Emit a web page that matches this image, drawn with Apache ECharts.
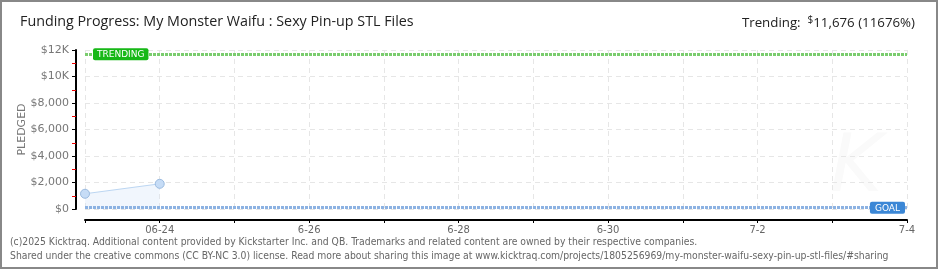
<!DOCTYPE html>
<html><head><meta charset="utf-8">
<script src="https://cdn.jsdelivr.net/npm/echarts@6/dist/echarts.min.js"></script>
<style>html,body{margin:0;padding:0;background:#fff}#c{width:940px;height:270px}</style>
</head><body><div id="c"></div>
<script>
var categories = ['06-23','06-24','06-25','06-26','06-27','06-28','06-29','06-30','07-01','07-02','07-03','07-04'];
var tickLabels = ['', '06-24', '', '6-26', '', '6-28', '', '6-30', '', '7-2', '', '7-4'];
var pledged = [1150, 1900, null, null, null, null, null, null, null, null, null, null];
var yTickLabels = {0:'$0', 2000:'$2,000', 4000:'$4,000', 6000:'$6,000', 8000:'$8,000', 10000:'$10K', 12000:'$12K'};
var trendingValue = 11676;
var goalValue = 100;
var titleText = 'Funding Progress: My Monster Waifu : Sexy Pin-up STL Files';
var footer1 = '(c)2025 Kicktraq. Additional content provided by Kickstarter Inc. and QB. Trademarks and related content are owned by their respective companies.';
var footer2 = 'Shared under the creative commons (CC BY-NC 3.0) license. Read more about sharing this image at www.kicktraq.com/projects/1805256969/my-monster-waifu-sexy-pin-up-stl-files/#sharing';

var chart = echarts.init(document.getElementById('c'), null, {renderer:'canvas'});
var font = 'DejaVu Sans';
chart.setOption({
  animation: false,
  backgroundColor: '#fff',
  grid: {left: 85, right: 33, top: 50, bottom: 61, containLabel: false},
  graphic: [
    {type:'rect', shape:{x:1,y:1,width:936,height:267}, style:{fill:'none', stroke:'#888', lineWidth:2}, z:100},
    {type:'text', left: 20, top: 15, style:{text: titleText, font: '14.3px "Open Sans"', fill:'#222'}},
    {type:'text', right: 25, top: 15, style:{rich:{a:{fontSize:13.3, fontFamily:'Open Sans', fill:'#222'}, s:{fontSize:10, fontFamily:'Open Sans', fill:'#222', verticalAlign:'top', padding:[0,0,6,0]}}, text: '{a|Trending:  }{s|$}{a|11,676 (11676%)}'}},
    {type:'text', left: 10, top: 237, style:{text: footer1, font: '10.3px "DejaVu Sans Condensed"', fill:'#666'}},
    {type:'text', left: 10, top: 251, style:{text: footer2, font: '10.3px "DejaVu Sans Condensed"', fill:'#666'}},
    {type:'text', left: 830, top: 130, style:{text: 'K', font: 'italic 80px "DejaVu Sans"', fill:'#fafafa'}, z:-1}
  ],
  xAxis: {
    type: 'category', data: categories, boundaryGap: false, offset: 11,
    axisLine: {onZero: false, lineStyle:{color:'#000', width:2}},
    axisTick: {show:true, length:3, lineStyle:{color:'#000', width:1}},
    axisLabel: {formatter: function(v, i){ return tickLabels[i]; }, color:'#666', fontSize:10, fontFamily: font, margin: 5, interval: 0},
    splitLine: {show:true, lineStyle:{color:'#e6e6e6', type:[5,4]}}
  },
  yAxis: {
    type: 'value', min: 0, max: 12000, interval: 2000, offset: 9,
    name: 'PLEDGED', nameLocation: 'middle', nameGap: 48, nameRotate: 90, nameMoveOverlap: false,
    nameTextStyle: {color:'#777', fontSize:11, fontFamily: font},
    axisLine: {show:true, onZero:false, lineStyle:{color:'#000', width:2, type:'solid'}},
    axisTick: {show:true, length:4, lineStyle:{color:'#000', width:1}},
    minorTick: {show:true, splitNumber:2, length:4, lineStyle:{color:'#e00', width:1}},
    axisLabel: {formatter: function(v){ return yTickLabels[v]; }, color:'#777', fontSize:11, fontFamily: font, margin: 7},
    splitLine: {show:true, lineStyle:{color:'#e6e6e6', type:[5,4]}}
  },
  series: [{
    type: 'line', data: pledged, connectNulls: false,
    symbol: 'circle', symbolSize: 9,
    itemStyle: {color:'#c6dcf6', borderColor:'#9bbbe0', borderWidth:1},
    lineStyle: {color:'#bcd6f2', width:1},
    areaStyle: {color:'rgba(215,230,248,0.5)'},
    markLine: {
      silent: true, symbol: 'none',
      data: [
        {yAxis: trendingValue, lineStyle:{color:'#7acc6e', width:3, type:[3,1]},
         label:{show:true, position:'insideStartTop', formatter:'TRENDING', color:'#fff', backgroundColor:'#17b817', padding:[2,4,1,4], borderRadius:2, fontSize:9, fontFamily: font, distance:-6, offset:[14,0]}},
        {yAxis: goalValue, lineStyle:{color:'#8cb2e2', width:3, type:[3,1]},
         label:{show:true, position:'insideEndTop', formatter:'GOAL', color:'#fff', backgroundColor:'#3b87d6', padding:[2,5,1,5], borderRadius:2, fontSize:9, fontFamily: font, distance:-6, offset:[-8,0]}}
      ]
    }
  }]
});
</script></body></html>
